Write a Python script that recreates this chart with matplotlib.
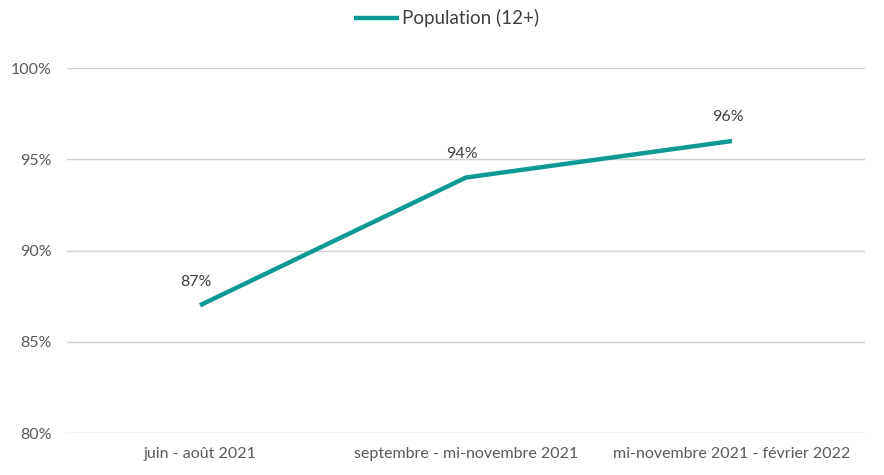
import matplotlib
matplotlib.use('Agg')
import matplotlib.pyplot as plt
from matplotlib.ticker import FuncFormatter

categories = ['juin - août 2021', 'septembre - mi-novembre 2021', 'mi-novembre 2021 - février 2022']
values = [87, 94, 96]
series_name = 'Population (12+)'

plt.rcParams['font.family'] = ['Lato', 'DejaVu Sans']

fig = plt.figure(figsize=(8.84, 4.75), dpi=100)
ax = fig.add_axes([0.0758, 0.0884, 0.9027, 0.7684])

x = list(range(len(categories)))
line, = ax.plot(x, values, color='#0E9A94', linewidth=3.2, solid_capstyle='butt', label=series_name)

# étiquettes de données au-dessus des points
for xi, v in zip(x, values):
    ax.annotate(f'{v}%', (xi, v), xytext=(-3, 12), textcoords='offset points',
                ha='center', va='bottom', fontsize=11.5, color='#404040')

ax.set_xlim(-0.5, 2.5)
ax.set_ylim(80, 100)
ax.set_yticks([80, 85, 90, 95, 100])
ax.yaxis.set_major_formatter(FuncFormatter(lambda v, p: f'{v:.0f}%'))
ax.set_xticks(x)
ax.set_xticklabels(categories)
ax.grid(axis='y', color='#D0D0D0', linewidth=1)
ax.set_axisbelow(True)
for s in ax.spines.values():
    s.set_visible(False)
ax.tick_params(axis='both', length=0, labelsize=11.5, labelcolor='#595959')
ax.tick_params(axis='y', pad=11)
ax.tick_params(axis='x', pad=10)

fig.legend(handles=[line], loc='center', bbox_to_anchor=(0.505, 0.962), frameon=False,
           fontsize=13.5, handlelength=2.4, handletextpad=0.15, labelcolor='#404040')

fig.savefig('out.png', dpi=100)
